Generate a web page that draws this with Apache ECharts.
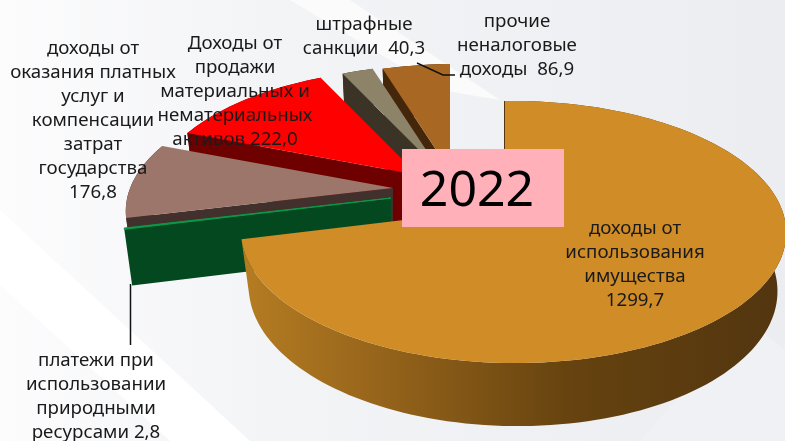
<!DOCTYPE html>
<html><head><meta charset="utf-8">
<style>html,body{margin:0;padding:0;background:#fff}#c{width:785px;height:441px}</style>
<script src="https://cdn.jsdelivr.net/npm/echarts@6/dist/echarts.min.js"></script>
</head><body><div id="c"></div>
<script>
// Data, clockwise from the top
const categories = ['доходы от\nиспользования\nимущества', 'платежи при\nиспользовании\nприродными\nресурсами', 'доходы от\nоказания платных\nуслуг и\nкомпенсации\nзатрат\nгосударства', 'Доходы от\nпродажи\nматериальных и\nнематериальных\nактивов', 'штрафные\nсанкции ', 'прочие\nненалоговые\nдоходы '];
const values = [1299.7, 2.8, 176.8, 222.0, 40.3, 86.9];
const valueSeparators = ['\n', ' ', '\n', ' ', ' ', ' '];
const yearLabel = '2022';

// Layout and style (back-to-front paint order, exploded apex of each slice, label centres)
const paintOrder = [5, 4, 3, 2, 1, 0];
const apexX = [505, 391, 393, 418, 440, 450];
const apexY = [208, 198, 188, 175, 171, 171];
const radiusScale = [0.988, 1, 1, 1, 1, 1];
const labelX = [635, 96, 93, 235, 364, 517];
const labelY = [265, 397, 121, 92, 37, 46];
const topColors = ['#d08c26', '#0a9a4a', '#9c756b', '#fe0000', '#8c8368', '#a86722'];
const wallColors = ['#55370f', '#044820', '#41302b', '#6e0000', '#3a3326', '#44260a'];
const RX = 271, RY = 126.6, P = 0.183, Q = 0.031, Z = 58, C = 0.03;
const FONT = '"Noto Sans"';

const total = values.reduce((a, b) => a + b, 0);
const starts = []; values.reduce((acc, v, i) => { starts[i] = acc; return acc + v; }, 0);
const toAngle = v => v / total * 2 * Math.PI;

function proj(i, th, bottom) {
  const u = Math.sin(th), v = -Math.cos(th);
  const d = 1 - P * v - Q * u + (bottom ? C : 0);
  return [apexX[i] + radiusScale[i] * RX * u / d, apexY[i] + (RY * v + (bottom ? Z : 0)) / d];
}
function apex(i, bottom) {
  return [apexX[i], apexY[i] + (bottom ? Z / (1 + C) : 0)];
}
function arc(i, a0, a1, bottom) {
  const n = Math.max(2, Math.ceil((a1 - a0) / 0.03)), pts = [];
  for (let k = 0; k <= n; k++) pts.push(proj(i, a0 + (a1 - a0) * k / n, bottom));
  return pts;
}
function renderSlice(params, api) {
  const val = api.value(0), i = api.value(1);
  const a0 = toAngle(starts[i]), a1 = a0 + toAngle(val);
  const wallFill = i === 0
    ? new echarts.graphic.LinearGradient(245, 0, 785, 0, [
        { offset: 0, color: '#b47c22' }, { offset: 0.25, color: '#96641b' },
        { offset: 0.6, color: '#66430f' }, { offset: 1, color: '#523510' }], true)
    : wallColors[i];
  const outer = arc(i, a0, a1, false).concat(arc(i, a0, a1, true).reverse());
  const startWall = [proj(i, a0, false), apex(i, false), apex(i, true), proj(i, a0, true)];
  const top = [apex(i, false)].concat(arc(i, a0, a1, false));
  return { type: 'group', children: [
    { type: 'polygon', shape: { points: outer }, style: { fill: wallFill } },
    { type: 'polygon', shape: { points: startWall },
      style: { fill: wallColors[i], stroke: i === 0 ? wallColors[i] : null, lineWidth: i === 0 ? 2 : 0 } },
    { type: 'polygon', shape: { points: top },
      style: { fill: topColors[i], stroke: i === 1 ? topColors[i] : null, lineWidth: i === 1 ? 1 : 0 } }
  ] };
}
function renderLabel(params, api) {
  const i = api.value(1);
  return { type: 'text', z2: 10, style: {
    text: categories[i] + valueSeparators[i] + String(values[i].toFixed(1)).replace('.', ','),
    x: labelX[i], y: labelY[i], align: 'center', verticalAlign: 'middle',
    font: '18.7px ' + FONT, lineHeight: 24, fill: '#1a1a1a' } };
}
const sliceData = paintOrder.map(i => [values[i], i]);
const chart = echarts.init(document.getElementById('c'), null, { renderer: 'canvas' });
chart.setOption({
  animation: false,
  graphic: [
    { type: 'rect', z: -10, shape: { x: 0, y: 0, width: 785, height: 441 }, style: { fill: new echarts.graphic.LinearGradient(0, 0, 1, 0, [{ offset: 0, color: '#fcfcfd' }, { offset: 0.35, color: '#f3f4f6' }, { offset: 1, color: '#ebedf1' }]) } },
    { type: 'polygon', z: -9, shape: { points: [[0, 210], [0, 285], [170, 441], [250, 441]] }, style: { fill: '#ffffff' } },
    { type: 'polygon', z: -9, shape: { points: [[290, 0], [350, 0], [500, 100], [440, 90]] }, style: { fill: '#fbfbfc' } },
    { type: 'polygon', z: -9, shape: { points: [[640, 441], [785, 441], [785, 350], [745, 318]] }, style: { fill: '#f0f1f4' } },
    { type: 'polyline', z: 5, shape: { points: [[417, 63], [443, 75], [455, 75]] }, style: { stroke: '#111', lineWidth: 1.5, fill: null } },
    { type: 'line', z: 1, shape: { x1: 130.5, y1: 284, x2: 130.5, y2: 345 }, style: { stroke: '#111', lineWidth: 1.5 } },
    { type: 'rect', z: 5, shape: { x: 402, y: 149, width: 162, height: 78 }, style: { fill: '#ffb0b8' } },
    { type: 'text', z: 6, style: { text: yearLabel, x: 477, y: 192, align: 'center', verticalAlign: 'middle', font: '50px ' + FONT, fill: '#000' } }
  ],
  series: [
    { type: 'custom', coordinateSystem: 'none', z: 2, data: sliceData, renderItem: renderSlice, silent: true },
    { type: 'custom', coordinateSystem: 'none', z: 8, data: sliceData, renderItem: renderLabel, silent: true }
  ]
});
</script></body></html>
